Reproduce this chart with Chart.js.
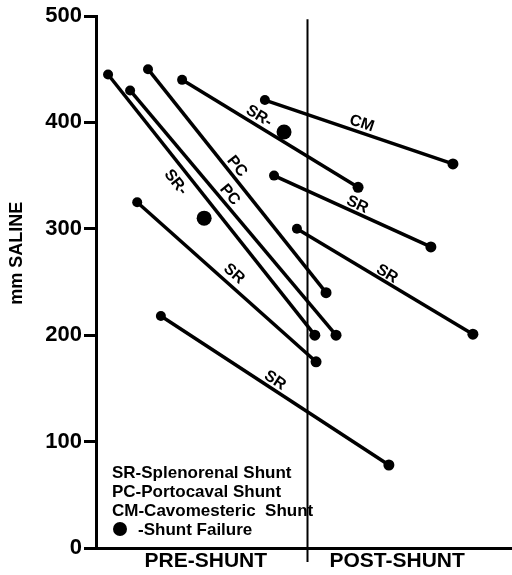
<!DOCTYPE html>
<html>
<head>
<meta charset="utf-8">
<script src="https://cdn.jsdelivr.net/npm/chart.js@4/dist/chart.umd.min.js"></script>
<style>
  html, body { margin: 0; padding: 0; background: #fff; }
  canvas { display: block; }
</style>
</head>
<body>
<canvas id="chart" width="512" height="575"></canvas>
<script>
// pressure before / after shunt, one line per patient
// x is only the horizontal place of the dot (0..100 across the plot)
const preX = [2.9, 8.2, 12.5, 20.7, 9.9, 15.6, 40.6, 42.8, 48.3];
const preVal = [445, 430, 450, 440, 325, 218, 421, 350, 300];
const postX = [52.6, 57.7, 55.3, 63.0, 52.9, 70.4, 85.8, 80.5, 90.6];
const postVal = [200, 200, 240, 339, 175, 78, 361, 283, 201];

// label written along each line
const lineLabels = ["SR-", "PC", "PC", "SR-", "SR", "SR", "CM", "SR", "SR"];
const labelT = [0.38, 0.45, 0.46, 0.41, 0.5, 0.48, 0.5, 0.51, 0.49];
const labelOffset = [-14, 9, 9, 9, 11, 8.5, 9, 8, 7.5];

// shunt failure markers
const failX = [26.0, 45.2];
const failVal = [310, 391];

const yTicks = [0, 100, 200, 300, 400, 500];
const xTickPos = [26.4, 72.4];
const xTickLabels = ["PRE-SHUNT", "POST-SHUNT"];
const dividerX = 50.7;

const legendLines = [
  "SR-Splenorenal Shunt",
  "PC-Portocaval Shunt",
  "CM-Cavomesteric  Shunt",
  "-Shunt Failure",
];

const FONT = "'Liberation Sans', Arial, sans-serif";

const datasets = preX.map((x, i) => ({
  data: [
    { x: x, y: preVal[i] },
    { x: postX[i], y: postVal[i] },
  ],
  showLine: true,
  borderColor: "#000",
  borderWidth: 3.5,
  pointRadius: [5, 5.5],
  pointBackgroundColor: "#000",
  pointBorderWidth: 0,
}));

datasets.push({
  data: failX.map((x, i) => ({ x: x, y: failVal[i] })),
  showLine: false,
  pointRadius: 7.5,
  pointBackgroundColor: "#000",
  pointBorderWidth: 0,
});

//text on the lines, divider, legend and axis title
const annotations = {
  id: "annotations",
  afterDatasetsDraw(chart) {
    const { ctx, chartArea } = chart;
    const xs = chart.scales.x;
    const ys = chart.scales.y;
    ctx.save();
    ctx.fillStyle = "#000";
    ctx.strokeStyle = "#000";

    // line labels
    ctx.font = `bold 16px ${FONT}`;
    ctx.textAlign = "center";
    ctx.textBaseline = "middle";
    lineLabels.forEach((text, i) => {
      const x0 = xs.getPixelForValue(preX[i]);
      const y0 = ys.getPixelForValue(preVal[i]);
      const x1 = xs.getPixelForValue(postX[i]);
      const y1 = ys.getPixelForValue(postVal[i]);
      const a = Math.atan2(y1 - y0, x1 - x0);
      const t = labelT[i];
      const off = labelOffset[i];
      const cx = x0 + (x1 - x0) * t + Math.sin(a) * off;
      const cy = y0 + (y1 - y0) * t - Math.cos(a) * off;
      ctx.save();
      ctx.translate(cx, cy);
      ctx.rotate(a);
      ctx.fillText(text, 0, 0);
      ctx.restore();
    });

    // divider between pre and post
    const dx = Math.round(xs.getPixelForValue(dividerX)) + 0.5;
    ctx.lineWidth = 2;
    ctx.beginPath();
    ctx.moveTo(dx, ys.getPixelForValue(497));
    ctx.lineTo(dx, chartArea.bottom + 14);
    ctx.stroke();

    // legend
    ctx.font = `bold 17px ${FONT}`;
    ctx.textAlign = "left";
    ctx.textBaseline = "alphabetic";
    const lx = chartArea.left + 16;
    legendLines.forEach((text, i) => {
      const by = chartArea.bottom - 70 + i * 19;
      if (i === legendLines.length - 1) {
        ctx.beginPath();
        ctx.arc(lx + 8, by - 6, 7, 0, Math.PI * 2);
        ctx.fill();
        ctx.fillText(text, lx + 26, by);
      } else {
        ctx.fillText(text, lx, by);
      }
    });

    // y axis title
    ctx.font = `bold 18px ${FONT}`;
    ctx.textAlign = "center";
    ctx.textBaseline = "middle";
    ctx.translate(17, ys.getPixelForValue(277));
    ctx.rotate(-Math.PI / 2);
    ctx.fillText("mm SALINE", 0, 0);
    ctx.restore();
  },
};

new Chart(document.getElementById("chart"), {
  type: "scatter",
  data: { datasets },
  options: {
    responsive: false,
    animation: false,
    devicePixelRatio: 1,
    layout: { autoPadding: false, padding: { top: 16, right: 0, left: 0, bottom: 0 } },
    plugins: {
      legend: { display: false },
      tooltip: { enabled: false },
    },
    scales: {
      x: {
        type: "linear",
        min: 0,
        max: 100,
        afterFit(scale) {
          scale.height = 27;
          scale.paddingLeft = 0;
          scale.paddingRight = 0;
        },
        afterBuildTicks(scale) {
          scale.ticks = xTickPos.map((v) => ({ value: v }));
        },
        ticks: {
          autoSkip: false,
          maxRotation: 0,
          padding: -7,
          color: "#000",
          font: { family: FONT, size: 21, weight: "bold" },
          callback: (v, i) => xTickLabels[i],
        },
        grid: { display: false },
        border: { display: true, color: "#000", width: 3 },
      },
      y: {
        min: 0,
        max: 500,
        afterFit(scale) {
          scale.width = 96;
        },
        afterBuildTicks(scale) {
          scale.ticks = yTicks.map((v) => ({ value: v }));
        },
        ticks: {
          padding: 2,
          color: "#000",
          font: { family: FONT, size: 22, weight: "bold" },
        },
        grid: {
          display: true,
          drawOnChartArea: false,
          drawTicks: true,
          tickLength: 12,
          lineWidth: 3,
          color: "#000",
        },
        border: { display: true, color: "#000", width: 3 },
      },
    },
  },
  plugins: [annotations],
});
</script>
</body>
</html>
